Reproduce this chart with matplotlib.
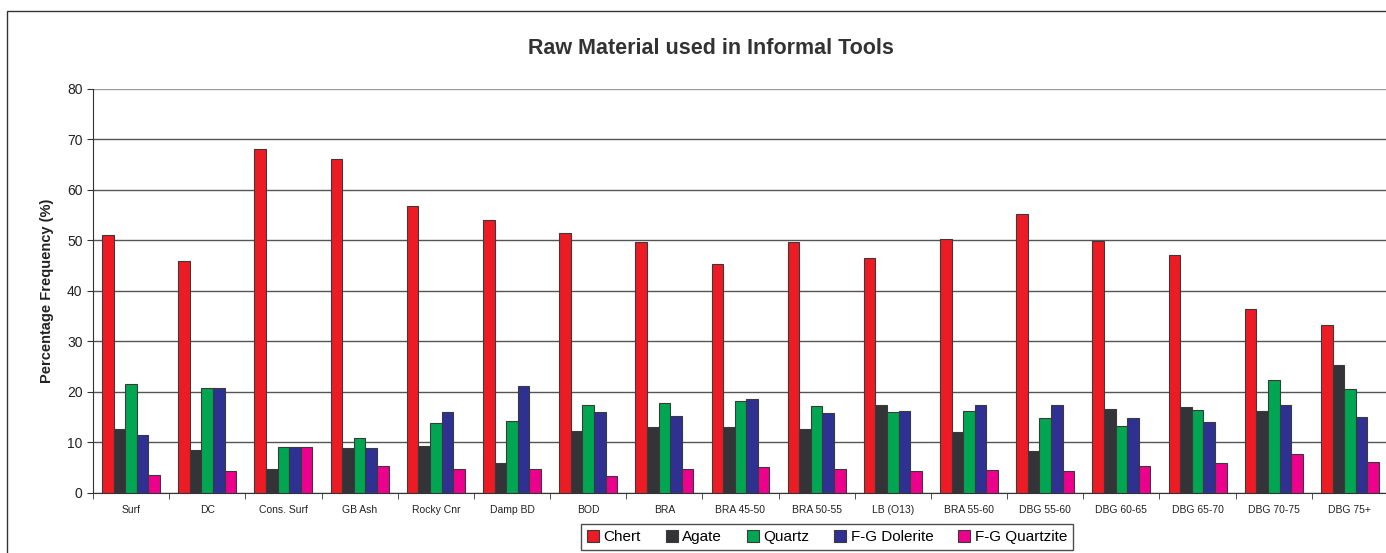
import matplotlib.pyplot as plt
import numpy as np
from matplotlib.patches import Rectangle

plt.rcParams['font.family'] = ['Liberation Sans', 'DejaVu Sans']

sites = ['Surf', 'DC', 'Cons. Surf', 'GB Ash', 'Rocky Cnr', 'Damp BD', 'BOD', 'BRA',
         'BRA 45-50', 'BRA 50-55', 'LB (O13)', 'BRA 55-60', 'DBG 55-60', 'DBG 60-65',
         'DBG 65-70', 'DBG 70-75', 'DBG 75+']

chert = [51.1, 45.9, 68.2, 66.1, 56.8, 54.1, 51.5, 49.7, 45.4, 49.7, 46.4, 50.3,
         55.3, 49.8, 47.0, 36.3, 33.2]
agate = [12.5, 8.5, 4.7, 8.9, 9.2, 5.9, 12.1, 12.9, 12.9, 12.5, 17.4, 11.9,
         8.3, 16.6, 16.9, 16.2, 25.2]
quartz = [21.5, 20.7, 9.1, 10.8, 13.7, 14.1, 17.4, 17.8, 18.1, 17.2, 15.9, 16.1,
          14.8, 13.1, 16.3, 22.4, 20.5]
dolerite = [11.4, 20.7, 9.1, 8.9, 15.9, 21.1, 15.9, 15.1, 18.5, 15.7, 16.2, 17.4,
            17.4, 14.8, 13.9, 17.4, 14.9]
quartzite = [3.4, 4.2, 9.1, 5.3, 4.6, 4.7, 3.2, 4.6, 5.0, 4.7, 4.2, 4.4,
             4.3, 5.3, 5.8, 7.7, 6.1]

series = [('Chert', chert, '#ED1C24'),
          ('Agate', agate, '#333338'),
          ('Quartz', quartz, '#00A651'),
          ('F-G Dolerite', dolerite, '#2E3192'),
          ('F-G Quartzite', quartzite, '#EC008C')]

fig = plt.figure(figsize=(13.86, 5.53), dpi=100)
W, H = 1386, 553

# outer chart frame (cut off on right and bottom like the source)
fig.patches.append(Rectangle((7 / W, -0.05), 1.1, 1 - 11 / H + 0.05,
                             transform=fig.transFigure, fill=False,
                             edgecolor='#333333', linewidth=1.0))

ax = fig.add_axes([93 / W, 1 - 492.5 / H, 1295 / W, 403.5 / H])

x = np.arange(len(sites))
bw = 0.152
for i, (name, vals, col) in enumerate(series):
    ax.bar(x + (i - 2) * bw, vals, width=bw, color=col, edgecolor='#3a3a3a',
           linewidth=0.8, label=name, zorder=3)

ax.set_xlim(-0.5, len(sites) - 0.5)
ax.set_ylim(0, 80)
ax.set_yticks(range(0, 81, 10))
ax.yaxis.grid(True, color='#555555', linewidth=1.0, zorder=0)
ax.get_ygridlines()[-1].set_color('#999999')
ax.tick_params(axis='y', labelsize=10, length=4, color='#333333', labelcolor='#222222')

ax.set_xticks(x)
ax.set_xticklabels(sites, fontsize=7.5, color='#222222')
ax.tick_params(axis='x', length=0, pad=9)
ax.set_xticks(np.arange(-0.5, len(sites)), minor=True)
ax.tick_params(axis='x', which='minor', length=4, color='#333333')

for s in ['top', 'right']:
    ax.spines[s].set_visible(False)
ax.spines['left'].set_color('#333333')
ax.spines['bottom'].set_color('#333333')

ax.set_ylabel('Percentage Frequency (%)', fontsize=10.5, fontweight='bold',
              color='#222222', labelpad=9)
fig.text(711 / W, 1 - 49 / H, 'Raw Material used in Informal Tools', ha='center',
         va='center', fontsize=15.5, fontweight='bold', color='#333333')

leg = fig.legend(loc='center', bbox_to_anchor=(827 / W, 1 - 537 / H), ncol=5,
                 fontsize=11, frameon=True, fancybox=False, handlelength=0.8,
                 handleheight=0.8, handletextpad=0.3, columnspacing=1.6,
                 borderpad=0.4)
leg.get_frame().set_edgecolor('#222222')
leg.get_frame().set_linewidth(1.0)

fig.savefig('out.png', dpi=100)
